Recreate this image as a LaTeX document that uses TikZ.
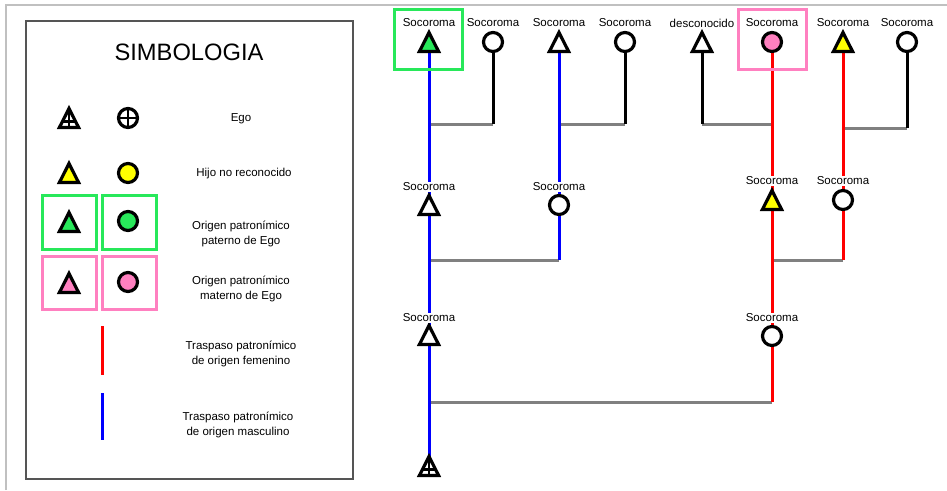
\documentclass[tikz,border=0pt]{standalone}
\usepackage{fontspec}
\setmainfont{Liberation Sans}
\usetikzlibrary{backgrounds}

\definecolor{kgreen}{RGB}{40,232,90}
\definecolor{kpink}{RGB}{255,128,192}
\definecolor{kyellow}{RGB}{255,255,0}
\definecolor{kred}{RGB}{255,0,0}
\definecolor{kblue}{RGB}{0,0,255}
\definecolor{kgray}{RGB}{128,128,128}
\definecolor{framegray}{RGB}{192,192,192}
\definecolor{boxgray}{RGB}{85,85,85}

\tikzset{
  symline/.style={line width=3.2pt, draw=black, line join=miter},
  % triangle (male) symbol drawn inside an invisible square node
  tri/.style={shape=rectangle, minimum size=34pt, inner sep=0pt,
    path picture={\draw[symline, fill=#1]
      ([shift={(0,-9.5)}]path picture bounding box.center) --
      ([shift={(9.6,9.5)}]path picture bounding box.center) --
      ([shift={(-9.6,9.5)}]path picture bounding box.center) -- cycle;}},
  tri/.default=white,
  % ego triangle: triangle crossed by a vertical and a horizontal bar
  egotri/.style={shape=rectangle, minimum size=34pt, inner sep=0pt,
    path picture={
      \draw[symline, fill=white]
        ([shift={(0,-9.5)}]path picture bounding box.center) --
        ([shift={(9.6,9.5)}]path picture bounding box.center) --
        ([shift={(-9.6,9.5)}]path picture bounding box.center) -- cycle;
      \draw[line width=2.6pt]
        ([shift={(0,-9.5)}]path picture bounding box.center) --
        ([shift={(0,9.5)}]path picture bounding box.center);
      \draw[line width=2.6pt]
        ([shift={(-6.5,3.5)}]path picture bounding box.center) --
        ([shift={(6.5,3.5)}]path picture bounding box.center);}},
  % circle (female) symbol
  circ/.style={circle, draw=black, line width=3.2pt, minimum size=19pt,
    inner sep=0pt, fill=#1},
  circ/.default=white,
  egocirc/.style={circ, path picture={
      \draw[line width=2.6pt]
        ([shift={(-10,0)}]path picture bounding box.center) --
        ([shift={(10,0)}]path picture bounding box.center);
      \draw[line width=2.6pt]
        ([shift={(0,-10)}]path picture bounding box.center) --
        ([shift={(0,10)}]path picture bounding box.center);}},
  lbl/.style={font=\fontsize{11.5}{14}\selectfont, fill=white, inner sep=1pt},
  legtext/.style={font=\fontsize{11.5}{15}\selectfont, align=center,
    inner sep=0pt},
  kin/.style={line width=3pt, draw=black},
  marr/.style={line width=3pt, draw=kgray},
  pat/.style={line width=3pt, draw=kblue},
  mat/.style={line width=3pt, draw=kred},
  gbox/.style={line width=3pt, draw=kgreen},
  pbox/.style={line width=3pt, draw=kpink},
}

\begin{document}
\begin{tikzpicture}[x=1pt, y=-1pt]
\useasboundingbox (0,0) rectangle (947,490);

% outer frame
\draw[framegray, line width=1.5pt] (6,490) -- (6,5) -- (947,5);

% ---------- legend ----------
\draw[boxgray, line width=1.2pt] (26,21) rectangle (353,479);
\node[font=\fontsize{23.7}{28}\selectfont] (title) at (189,52) {SIMBOLOGIA};

\node[egotri] (legEgoT) at (69,118) {};
\node[egocirc] (legEgoC) at (128,118) {};
\node[legtext] (tEgo) at (241,119) {Ego};

\node[tri=kyellow] (legHijoT) at (69,173) {};
\node[circ=kyellow] (legHijoC) at (128,173) {};
\node[legtext] (tHijo) at (244,174) {Hijo no reconocido};

\draw[gbox] (42,195) rectangle (96,249);
\draw[gbox] (102,195) rectangle (156,249);
\node[tri=kgreen] (legPatT) at (69,222) {};
\node[circ=kgreen] (legPatC) at (128,221) {};
\node[legtext] (tPat) at (241,234) {Origen patronímico\\paterno de Ego};

\draw[pbox] (42,256) rectangle (96,309);
\draw[pbox] (102,256) rectangle (156,309);
\node[tri=kpink] (legMatT) at (69,283) {};
\node[circ=kpink] (legMatC) at (128,282) {};
\node[legtext] (tMat) at (241,289) {Origen patronímico\\materno de Ego};

\coordinate (legRa) at (102,326);
\coordinate (legRb) at (102,375);
\draw[mat] (legRa) -- (legRb);
\node[legtext] (tFem) at (241,354) {Traspaso patronímico\\de origen femenino};

\coordinate (legBa) at (102,393);
\coordinate (legBb) at (102,440);
\draw[pat] (legBa) -- (legBb);
\node[legtext] (tMasc) at (238,425) {Traspaso patronímico\\de origen masculino};

% ---------- genealogy ----------
% first generation
\node[tri=kgreen] (A1) at (429,42) {};
\node[circ] (A2) at (493,42) {};
\node[tri] (A3) at (559,42) {};
\node[circ] (A4) at (625,42) {};
\node[tri] (A5) at (702,42) {};
\node[circ=kpink] (A6) at (772,42) {};
\node[tri=kyellow] (A7) at (843,42) {};
\node[circ] (A8) at (907,42) {};

\node[lbl] (lA1) at (429,23) {Socoroma};
\node[lbl] (lA2) at (493,23) {Socoroma};
\node[lbl] (lA3) at (559,23) {Socoroma};
\node[lbl] (lA4) at (625,23) {Socoroma};
\node[lbl] (lA5) at (702,23) {desconocido};
\node[lbl] (lA6) at (772,23) {Socoroma};
\node[lbl] (lA7) at (843,23) {Socoroma};
\node[lbl] (lA8) at (907,23) {Socoroma};

\draw[gbox] (394,9) rectangle (462,69);
\draw[pbox] (738,9) rectangle (806,69);

% second generation
\node[tri] (B1) at (429,205) {};
\node[circ] (B2) at (559,205) {};
\node[tri=kyellow] (B3) at (772,200) {};
\node[circ] (B4) at (843,200) {};
\node[lbl] (lB1) at (429,187) {Socoroma};
\node[lbl] (lB2) at (559,187) {Socoroma};
\node[lbl] (lB3) at (772,181) {Socoroma};
\node[lbl] (lB4) at (843,181) {Socoroma};

% third generation
\node[tri] (C1) at (429,335) {};
\node[circ] (C2) at (772,336) {};
\node[lbl] (lC1) at (429,318) {Socoroma};
\node[lbl] (lC2) at (772,318) {Socoroma};

% ego
\node[egotri] (Ego) at (429,466) {};

% junctions of the marriage lines
\coordinate (j1) at (493,124);
\coordinate (j2) at (625,124);
\coordinate (j3) at (702,124);
\coordinate (j4) at (907,128);
\coordinate (j5) at (559,260);
\coordinate (j6) at (843,260);
\coordinate (j7) at (772,402);

\begin{pgfonlayer}{background}
  % marriage bars
  \draw[marr] (A1 |- j1) -- (j1);
  \draw[marr] (A3 |- j2) -- (j2);
  \draw[marr] (j3) -- (A6 |- j3);
  \draw[marr] (A7 |- j4) -- (j4);
  \draw[marr] (B1 |- j5) -- (j5);
  \draw[marr] (B3 |- j6) -- (j6);
  \draw[marr] (C1 |- j7) -- (j7);
  % spouses without transmitted surname
  \draw[kin] (A2.center) -- (j1);
  \draw[kin] (A4.center) -- (j2);
  \draw[kin] (A5.center) -- (j3);
  \draw[kin] (A8.center) -- (j4);
  % paternal transmission
  \draw[pat] (A1.center) -- (B1.center) -- (C1.center) -- (Ego.center);
  \draw[pat] (A3.center) -- (B2.center) -- (j5);
  % maternal transmission
  \draw[mat] (A6.center) -- (B3.center) -- (C2.center) -- (j7);
  \draw[mat] (A7.center) -- (B4.center) -- (j6);
\end{pgfonlayer}
\end{tikzpicture}
\end{document}
